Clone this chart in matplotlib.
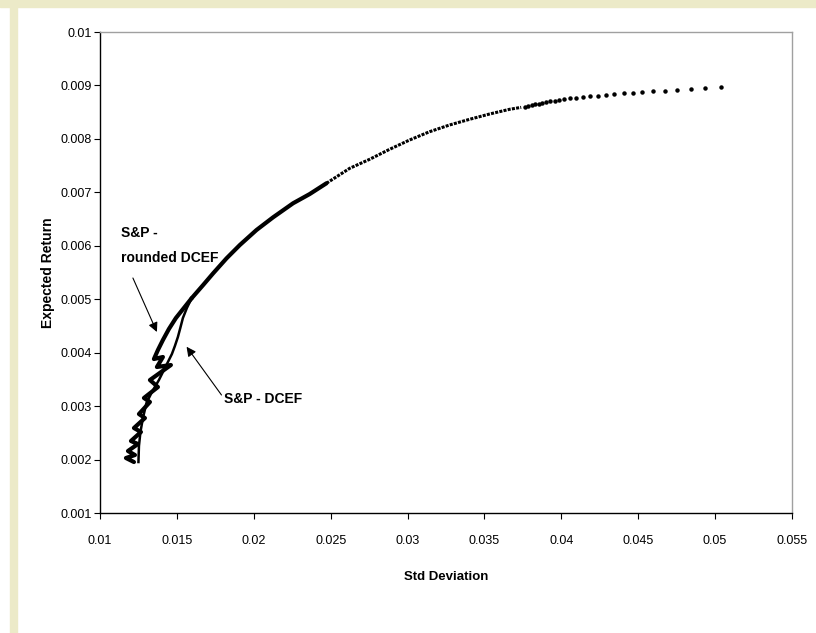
import matplotlib
matplotlib.use('Agg')
import matplotlib.pyplot as plt
from matplotlib.patches import Rectangle

# upper shared part of the frontier (dense, drawn as a solid band)
sd_main = [0.015955, 0.016708, 0.017358, 0.018228, 0.019092, 0.020176,
           0.021254, 0.022553, 0.023637, 0.024722]
ret_main = [0.005017, 0.005266, 0.005485, 0.005765, 0.006014, 0.006295,
            0.006532, 0.006795, 0.006968, 0.007169]

# middle part where the dots are close together
sd_mid = [0.024722, 0.026235, 0.027534, 0.028833, 0.030131, 0.031430,
          0.032729, 0.034028, 0.035327, 0.036625, 0.037390]
ret_mid = [0.007169, 0.007449, 0.007618, 0.007805, 0.007979, 0.008134,
           0.008260, 0.008366, 0.008465, 0.008553, 0.008590]

# sparse dots at the top end of the frontier
sd_dots = [0.03764, 0.03786, 0.03807, 0.03831, 0.03853, 0.03875, 0.03901,
           0.03929, 0.03957, 0.03987, 0.04020, 0.04057, 0.04096, 0.04139,
           0.04187, 0.04236, 0.04291, 0.04344, 0.04405, 0.04463, 0.04524,
           0.04593, 0.04671, 0.04752, 0.04844, 0.04935, 0.05039]
ret_dots = [0.008600, 0.008620, 0.008634, 0.008653, 0.008660, 0.008680,
            0.008690, 0.008700, 0.008714, 0.008730, 0.008740, 0.008760,
            0.008765, 0.008778, 0.008800, 0.008810, 0.008820, 0.008840,
            0.008850, 0.008860, 0.008875, 0.008890, 0.008901, 0.008915,
            0.008927, 0.008946, 0.008977]

# S&P - DCEF, lower branch
sd_dcef = [0.015955, 0.01565, 0.01539, 0.015221, 0.015065, 0.01487,
           0.014676, 0.014286, 0.013831, 0.013377, 0.01302, 0.012792,
           0.01263, 0.012533, 0.0125]
ret_dcef = [0.005017, 0.004836, 0.004648, 0.004461, 0.004293, 0.004125,
            0.003975, 0.00375, 0.003488, 0.003264, 0.003058, 0.002777,
            0.002516, 0.002254, 0.001954]

# S&P - rounded DCEF, lower branch (jagged)
sd_round = [0.015955, 0.015455, 0.014935, 0.014481, 0.014091, 0.013767,
            0.013507, 0.014091, 0.013701, 0.014611, 0.013247, 0.013767,
            0.012857, 0.013247, 0.012533, 0.012922, 0.012208, 0.012663,
            0.012013, 0.012468, 0.011818, 0.012273, 0.011688, 0.012208]
ret_round = [0.005017, 0.004836, 0.004648, 0.004443, 0.004237, 0.00405,
             0.003881, 0.003919, 0.003732, 0.003769, 0.003488, 0.003357,
             0.003152, 0.003077, 0.002852, 0.002777, 0.00259, 0.002516,
             0.002347, 0.002291, 0.00216, 0.002085, 0.002029, 0.001954]

x_ticks = [0.01, 0.015, 0.02, 0.025, 0.03, 0.035, 0.04, 0.045, 0.05, 0.055]
x_labels = ['0.01', '0.015', '0.02', '0.025', '0.03', '0.035', '0.04',
            '0.045', '0.05', '0.055']
y_ticks = [0.001, 0.002, 0.003, 0.004, 0.005, 0.006, 0.007, 0.008, 0.009, 0.01]
y_labels = ['0.001', '0.002', '0.003', '0.004', '0.005', '0.006', '0.007',
            '0.008', '0.009', '0.01']

plt.rcParams['font.family'] = ['Liberation Sans', 'DejaVu Sans']

fig = plt.figure(figsize=(8.16, 6.33), dpi=100)
beige = '#ECEAC8'
fig.patches.append(Rectangle((0, 1 - 7 / 633), 1, 7 / 633,
                             transform=fig.transFigure, color=beige, zorder=0))
fig.patches.append(Rectangle((10 / 816, 0), 7 / 816, 1,
                             transform=fig.transFigure, color=beige, zorder=0))

ax = fig.add_axes([100 / 816, 120 / 633, 692 / 816, 481 / 633])

ax.plot(sd_round, ret_round, color='black', lw=3.0, solid_joinstyle='round',
        solid_capstyle='round')
ax.plot(sd_dcef, ret_dcef, color='black', lw=1.8, solid_joinstyle='round')
ax.plot(sd_main, ret_main, color='black', lw=3.0, solid_capstyle='round',
        solid_joinstyle='round')
ax.plot(sd_mid, ret_mid, color='black', lw=2.2, linestyle=(0, (1.0, 0.4)))
ax.plot(sd_dots, ret_dots, linestyle='none', marker='o', ms=2.2,
        color='black')

# annotations
ax.annotate('', xy=(0.0137, 0.004387), xytext=(0.01214, 0.005397),
            arrowprops=dict(arrowstyle='-|>', color='black', lw=0.8,
                            mutation_scale=14, shrinkA=0, shrinkB=0))
ax.text(0.01136, 0.00624, 'S&P -', fontsize=10, fontweight='bold',
        ha='left', va='center')
ax.text(0.01136, 0.005771, 'rounded DCEF', fontsize=10, fontweight='bold',
        ha='left', va='center')

ax.annotate('', xy=(0.01563, 0.004111), xytext=(0.0179, 0.003208),
            arrowprops=dict(arrowstyle='-|>', color='black', lw=0.8,
                            mutation_scale=14, shrinkA=0, shrinkB=0))
ax.text(0.01805, 0.003133, 'S&P - DCEF', fontsize=10, fontweight='bold',
        ha='left', va='center')

ax.set_xlim(0.01, 0.055)
ax.set_ylim(0.001, 0.01)
ax.set_xticks(x_ticks)
ax.set_xticklabels(x_labels, fontsize=9)
ax.set_yticks(y_ticks)
ax.set_yticklabels(y_labels, fontsize=9)
ax.tick_params(direction='out', length=4, width=0.8, color='black')
ax.tick_params(axis='x', pad=12)
ax.tick_params(axis='y', pad=2)

for side in ['top', 'right']:
    ax.spines[side].set_color('#A0A0A0')
    ax.spines[side].set_linewidth(1.0)
for side in ['left', 'bottom']:
    ax.spines[side].set_color('black')
    ax.spines[side].set_linewidth(1.0)

ax.set_xlabel('Std Deviation', fontsize=9.5, fontweight='bold', labelpad=17)
ax.set_ylabel('Expected Return', fontsize=10, fontweight='bold', labelpad=4)

fig.savefig('out.png', dpi=100)
